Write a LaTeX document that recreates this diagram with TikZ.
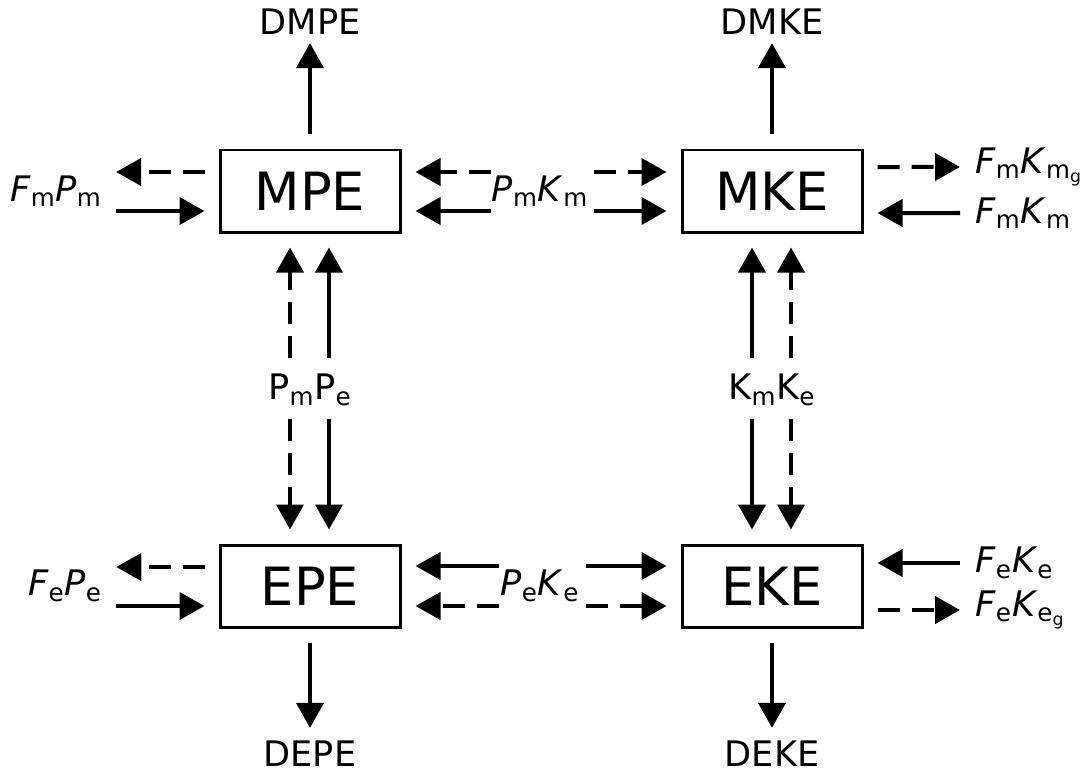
\documentclass[tikz,border=0pt]{standalone}
\usepackage{fontspec}
\setmainfont{DejaVu Sans}
\usetikzlibrary{arrows.meta}

\begin{document}
\begin{tikzpicture}[
            box/.style={rectangle, draw, line width=0.06cm, minimum width=3.6cm, minimum height=1.64cm, font=\fontsize{30}{36}\selectfont},
            lbl/.style={inner sep=0pt, font=\fontsize{20}{24}\selectfont},
            arrow/.style={-{Triangle[length=0.5cm, width=0.54cm]}, line width=0.08cm},
            dashedarrow/.style={arrow, dash pattern=on 0.44cm off 0.24cm},
            tobox/.style={shorten <=#1, shorten >=0.28cm},
            tobox/.default=0.02cm,
            frombox/.style={shorten <=0.28cm, shorten >=#1},
            frombox/.default=0.28cm
        ]
            \useasboundingbox (0,0) rectangle (21.7,-15.56);
            \node[box] (mpe) at (6.2,-3.82) {MPE};
            \node[box] (mke) at (15.44,-3.82) {MKE};
            \node[box] (epe) at (6.2,-11.72) {EPE};
            \node[box] (eke) at (15.44,-11.72) {EKE};
            \node[lbl] (dmpe) at (6.2,-0.44) {DMPE};
            \node[lbl] (dmke) at (15.44,-0.44) {DMKE};
            \node[lbl] (depe) at (6.2,-15.08) {DEPE};
            \node[lbl] (deke) at (15.44,-15.08) {DEKE};
            \node[lbl] (fmpm) at (1.12,-3.82) {\textit{F}\textsubscript{m}\textit{P}\textsubscript{m}};
            \node[lbl] (pmkm) at (10.8,-3.82) {\textit{P}\textsubscript{m}\textit{K}\textsubscript{m}};
            \node[lbl, anchor=west] (fmkmg) at (19.5,-3.34) {\textit{F}\textsubscript{m}\textit{K}\textsubscript{m\textsubscript{g}}};
            \node[lbl, anchor=west] (fmkm) at (19.5,-4.26) {\textit{F}\textsubscript{m}\textit{K}\textsubscript{m}};
            \node[lbl] (pmpe) at (6.2,-7.8) {P\textsubscript{m}P\textsubscript{e}};
            \node[lbl] (kmke) at (15.44,-7.8) {K\textsubscript{m}K\textsubscript{e}};
            \node[lbl] (fepe) at (1.3,-11.72) {\textit{F}\textsubscript{e}\textit{P}\textsubscript{e}};
            \node[lbl] (peke) at (10.8,-11.72) {\textit{P}\textsubscript{e}\textit{K}\textsubscript{e}};
            \node[lbl, anchor=west] (feke) at (19.5,-11.26) {\textit{F}\textsubscript{e}\textit{K}\textsubscript{e}};
            \node[lbl, anchor=west] (fekeg) at (19.5,-12.2) {\textit{F}\textsubscript{e}\textit{K}\textsubscript{e\textsubscript{g}}};
            \draw[arrow, frombox=0.16cm] (mpe.north) -- (dmpe.south);
            \draw[arrow, frombox=0.16cm] (mke.north) -- (dmke.south);
            \draw[arrow, frombox=0.26cm] (epe.south) -- (depe.north);
            \draw[arrow, frombox=0.26cm] (eke.south) -- (deke.north);
            \draw[dashedarrow, frombox] ([yshift=0.38cm]mpe.west) -- ([yshift=0.38cm]fmpm.east);
            \draw[arrow, tobox=0.28cm] ([yshift=-0.4cm]fmpm.east) -- ([yshift=-0.4cm]mpe.west);
            \draw[dashedarrow, tobox] ([yshift=0.38cm]pmkm.west) -- ([yshift=0.38cm]mpe.east);
            \draw[dashedarrow, tobox=0.12cm] ([yshift=0.38cm]pmkm.east) -- ([yshift=0.38cm]mke.west);
            \draw[arrow, tobox] ([yshift=-0.4cm]pmkm.west) -- ([yshift=-0.4cm]mpe.east);
            \draw[arrow, tobox=0.12cm] ([yshift=-0.4cm]pmkm.east) -- ([yshift=-0.4cm]mke.west);
            \draw[dashedarrow, frombox=0.3cm] ([yshift=0.48cm]mke.east) -- (fmkmg.west);
            \draw[arrow, tobox=0.3cm] (fmkm.west) -- ([yshift=-0.44cm]mke.east);
            \draw[dashedarrow, tobox=0.32cm] ([xshift=-0.4cm]pmpe.north) -- ([xshift=-0.4cm]mpe.south);
            \draw[arrow, tobox=0.32cm] ([xshift=0.38cm]pmpe.north) -- ([xshift=0.38cm]mpe.south);
            \draw[dashedarrow, tobox=0.26cm] ([xshift=-0.4cm]pmpe.south) -- ([xshift=-0.4cm]epe.north);
            \draw[arrow, tobox=0.26cm] ([xshift=0.38cm]pmpe.south) -- ([xshift=0.38cm]epe.north);
            \draw[arrow, tobox=0.32cm] ([xshift=-0.4cm]kmke.north) -- ([xshift=-0.4cm]mke.south);
            \draw[dashedarrow, tobox=0.32cm] ([xshift=0.38cm]kmke.north) -- ([xshift=0.38cm]mke.south);
            \draw[arrow, tobox=0.26cm] ([xshift=-0.4cm]kmke.south) -- ([xshift=-0.4cm]eke.north);
            \draw[dashedarrow, tobox=0.26cm] ([xshift=0.38cm]kmke.south) -- ([xshift=0.38cm]eke.north);
            \draw[dashedarrow, frombox] ([yshift=0.38cm]epe.west) -- ([yshift=0.38cm]fepe.east);
            \draw[arrow, tobox=0.28cm] ([yshift=-0.4cm]fepe.east) -- ([yshift=-0.4cm]epe.west);
            \draw[arrow, tobox] ([yshift=0.4cm]peke.west) -- ([yshift=0.4cm]epe.east);
            \draw[arrow, tobox=0.12cm] ([yshift=0.4cm]peke.east) -- ([yshift=0.4cm]eke.west);
            \draw[dashedarrow, tobox] ([yshift=-0.4cm]peke.west) -- ([yshift=-0.4cm]epe.east);
            \draw[dashedarrow, tobox=0.12cm] ([yshift=-0.4cm]peke.east) -- ([yshift=-0.4cm]eke.west);
            \draw[arrow, tobox=0.3cm] (feke.west) -- ([yshift=0.46cm]eke.east);
            \draw[dashedarrow, frombox=0.3cm] ([yshift=-0.48cm]eke.east) -- (fekeg.west);
        \end{tikzpicture}
\end{document}
